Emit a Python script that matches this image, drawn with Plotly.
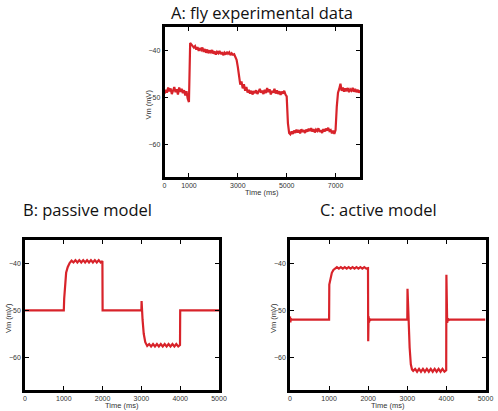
import plotly.graph_objects as go

# ---------------- data ----------------
# Panel A: fly experimental data, sampled every 50 ms from 0 to 8000 ms
a_time = list(range(0, 8001, 50))
a_vm = [
    # 0 - 950
    -49.2, -48.4, -49.0, -47.9, -48.7, -48.1, -49.3, -48.6, -47.8, -48.9,
    -48.3, -49.4, -47.9, -48.8, -48.2, -49.1, -48.5, -49.6, -48.7, -50.3,
    # 1000 - 1950
    -51.0, -38.4, -38.7, -38.9, -39.4, -39.1, -39.8, -39.3, -40.1, -39.5,
    -39.9, -39.4, -40.3, -39.7, -40.5, -39.8, -40.6, -40.0, -40.4, -39.9,
    # 2000 - 2950
    -40.7, -40.2, -40.9, -40.3, -40.6, -40.1, -40.8, -40.4, -41.0, -40.5,
    -40.9, -40.3, -40.7, -40.4, -41.0, -40.6, -40.9, -40.8, -41.3, -42.0,
    # 3000 - 3950
    -43.5, -46.0, -47.3, -46.6, -48.1, -47.2, -48.6, -47.8, -49.0, -48.4,
    -49.2, -48.6, -49.4, -48.7, -49.1, -48.5, -49.3, -48.8, -48.2, -49.0,
    # 4000 - 4950
    -48.6, -49.3, -48.4, -49.1, -48.0, -48.9, -48.3, -49.4, -48.6, -49.0,
    -48.2, -49.2, -48.5, -49.3, -48.7, -49.5, -48.8, -49.2, -48.6, -49.4,
    # 5000 - 5950
    -49.8, -55.5, -57.6, -57.9, -57.3, -57.8, -57.1, -57.6, -56.9, -57.5,
    -57.0, -57.7, -56.8, -57.4, -57.0, -57.6, -56.9, -57.3, -56.7, -57.2,
    # 6000 - 6950
    -56.6, -57.3, -56.8, -57.5, -56.9, -57.2, -56.6, -57.4, -57.0, -57.6,
    -56.8, -57.3, -56.7, -57.1, -56.5, -57.2, -57.0, -57.7, -57.1, -57.8,
    # 7000 - 7950
    -57.0, -52.0, -49.0, -48.2, -47.1, -48.6, -47.9, -48.8, -48.1, -48.7,
    -48.0, -48.9, -48.3, -48.6, -48.0, -48.8, -48.2, -48.9, -48.4, -49.0,
    # 8000
    -48.5,
]

# Panel B: passive model
b_time = [0, 1000, 1010, 1030, 1060, 1100, 1150, 1200, 1250, 1300, 1350,
          1400, 1450, 1500, 1550, 1600, 1650, 1700, 1750, 1800, 1850, 1900,
          1950, 1995, 2000, 3000, 3005, 3030, 3060, 3100, 3150, 3200, 3250,
          3300, 3350, 3400, 3450, 3500, 3550, 3600, 3650, 3700, 3750, 3800,
          3850, 3900, 3950, 3995, 4000, 5000]
b_vm = [-50, -50, -47.5, -44.0, -42.0, -40.8, -39.9, -39.4, -39.8, -39.3, -39.8,
        -39.3, -39.8, -39.3, -39.8, -39.3, -39.8, -39.3, -39.8, -39.3, -39.8, -39.3,
        -39.8, -39.5, -50, -50, -48.0, -52.0, -55.0, -56.8, -57.6, -57.2, -57.7,
        -57.2, -57.7, -57.2, -57.7, -57.2, -57.7, -57.2, -57.7, -57.2, -57.7, -57.2,
        -57.7, -57.2, -57.7, -57.4, -50, -50]

# Panel C: active model
c_time = [0, 10, 20, 40, 1000, 1005, 1030, 1070, 1110, 1150, 1200, 1250, 1300,
          1350, 1400, 1450, 1500, 1550, 1600, 1650, 1700, 1750, 1800, 1850, 1900,
          1950, 1995, 2000, 2010, 2020, 2035, 2050, 2070, 3000, 3005, 3030, 3060,
          3090, 3120, 3150, 3200, 3250, 3300, 3350, 3400, 3450, 3500, 3550, 3600,
          3650, 3700, 3750, 3800, 3850, 3900, 3950, 3995, 4000, 4010, 4020, 4035,
          4050, 4070, 5000]
c_vm = [-51.3, -52.6, -51.8, -52, -52, -44.5, -43.3, -42.0, -41.4, -41.1, -40.8, -41.1, -40.8,
        -41.1, -40.8, -41.1, -40.8, -41.1, -40.8, -41.1, -40.8, -41.1, -40.8, -41.1, -40.8,
        -41.1, -41.0, -56.6, -51.3, -52.6, -51.8, -52.1, -52, -52, -45.4, -52.0, -58.0,
        -61.5, -62.6, -62.9, -62.5, -63.1, -62.5, -63.1, -62.5, -63.1, -62.5, -63.1, -62.5,
        -63.1, -62.5, -63.1, -62.5, -63.1, -62.5, -63.1, -62.8, -42.4, -51.5, -52.7, -51.7,
        -52.2, -52, -52]

a_xticks = [0, 1000, 3000, 5000, 7000]
bc_xticks = [0, 1000, 2000, 3000, 4000, 5000]
y_ticks = [-40, -50, -60]

titles = ["A: fly experimental data", "B: passive model", "C: active model"]
x_title = "Time (ms)"
y_title = "Vm (mV)"

# ---------------- figure ----------------
W, H = 498, 411
red = "#d8232a"

fig = go.Figure()
fig.add_trace(go.Scatter(x=a_time, y=a_vm, mode="lines", line=dict(color=red, width=2.2),
                         xaxis="x", yaxis="y", showlegend=False))
fig.add_trace(go.Scatter(x=b_time, y=b_vm, mode="lines", line=dict(color=red, width=2.2),
                         xaxis="x2", yaxis="y2", showlegend=False))
fig.add_trace(go.Scatter(x=c_time, y=c_vm, mode="lines", line=dict(color=red, width=2.2),
                         xaxis="x3", yaxis="y3", showlegend=False))

tickfont = dict(family="Liberation Sans", size=7, color="#333")
common = dict(showline=True, linecolor="black", linewidth=2.5, mirror="allticks",
              ticks="inside", ticklen=4, tickwidth=1, tickcolor="black",
              tickfont=tickfont, showgrid=False, zeroline=False, fixedrange=True,
              automargin=False)

def px_x(p):
    return p / W

def px_y(p):
    return 1 - p / H

# pixel boxes: (left, right, top, bottom)
boxes = [(164.5, 360, 27, 177), (25, 219, 240, 390), (290, 485.5, 240, 390)]

layout = dict(width=W, height=H, margin=dict(l=0, r=0, t=0, b=0, pad=0),
              paper_bgcolor="white", plot_bgcolor="white", showlegend=False)

for i, (l, r, t, b) in enumerate(boxes):
    sx = "" if i == 0 else str(i + 1)
    xt = a_xticks if i == 0 else bc_xticks
    xr = [0, 8000] if i == 0 else [0, 5000]
    layout["xaxis" + sx] = dict(domain=[px_x(l), px_x(r)], range=xr, tickvals=xt,
                                anchor="y" + sx, **common)
    layout["yaxis" + sx] = dict(domain=[px_y(b), px_y(t)], range=[-67, -35], tickvals=y_ticks,
                                anchor="x" + sx, **common)

fig.update_layout(**layout)

ann = []
title_pos = [(262, 13), (87, 209), (378, 209)]
for (cx, cy), txt in zip(title_pos, titles):
    ann.append(dict(text=txt, x=px_x(cx), y=px_y(cy), xref="paper", yref="paper",
                    showarrow=False, xanchor="center", yanchor="middle",
                    font=dict(family="Open Sans", size=16.5, color="#111")))
for (l, r, t, b) in boxes:
    ann.append(dict(text=x_title, x=px_x((l + r) / 2), y=px_y(b + 15.5), xref="paper", yref="paper",
                    showarrow=False, xanchor="center", yanchor="middle",
                    font=dict(family="Liberation Sans", size=7.5, color="#333")))
    ann.append(dict(text=y_title, x=px_x(l - 17), y=px_y((t + b) / 2 + 3), xref="paper", yref="paper",
                    showarrow=False, xanchor="center", yanchor="middle", textangle=-90,
                    font=dict(family="Liberation Sans", size=7.5, color="#333")))
fig.update_layout(annotations=ann)

fig.write_html("out.html", config={"displayModeBar": False},
               post_script="document.body.style.margin='0';")
